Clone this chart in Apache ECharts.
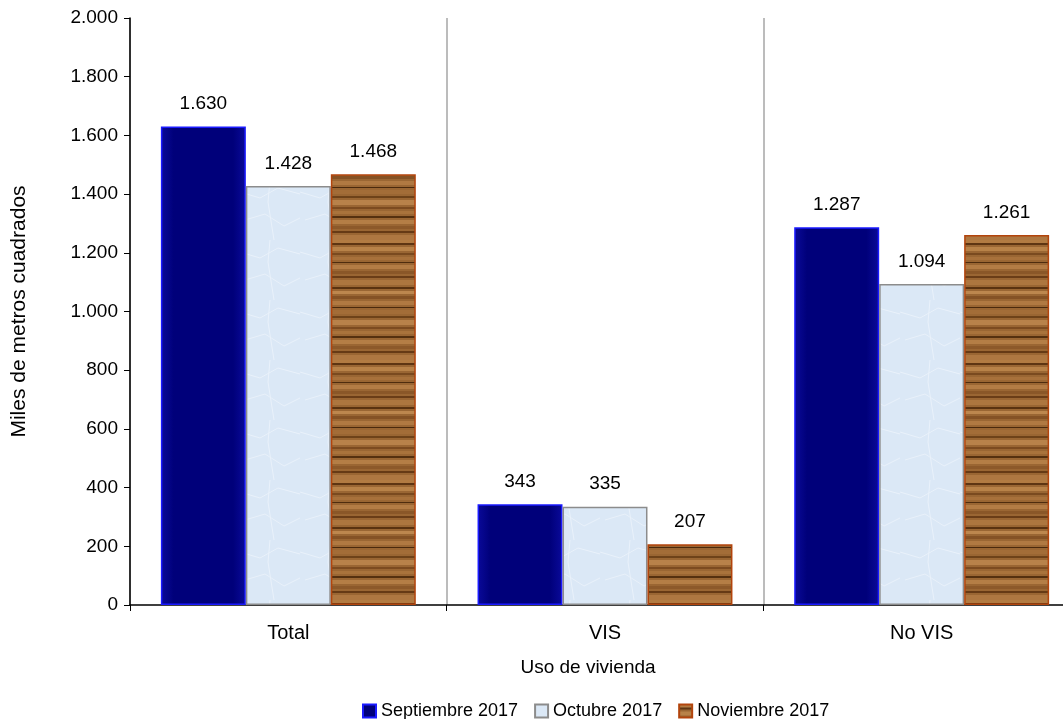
<!DOCTYPE html>
<html lang="es">
<head>
    <meta charset="UTF-8">
    <title>Uso de vivienda</title>
    <script src="https://cdn.jsdelivr.net/npm/echarts/dist/echarts.min.js"></script>
    <style>
        html, body { margin: 0; padding: 0; background: #fff; }
        #main { width: 1063px; height: 719px; }
    </style>
</head>
<body>
    <div id="main"></div>
    <script>
        var categories = ['Total', 'VIS', 'No VIS'];
        var seriesNames = ['Septiembre 2017', 'Octubre 2017', 'Noviembre 2017'];
        var septiembre = [1630, 343, 1287];
        var octubre = [1428, 335, 1094];
        var noviembre = [1468, 207, 1261];

        function fmt(v) {
            return String(v).replace(/\B(?=(\d{3})+(?!\d))/g, '.');
        }

        // textura madera (rayas horizontales fijas)
        function woodPattern() {
            var c = document.createElement('canvas');
            c.width = 90; c.height = 120;
            var ctx = c.getContext('2d');
            ctx.fillStyle = '#9a6633';
            ctx.fillRect(0, 0, 90, 120);
            var stripes = [
                [0, 3, '#b27b42'], [3, 2, '#5e3512'], [7, 4, '#b88248'], [13, 2, '#7a4a1f'],
                [17, 3, '#a8713b'], [22, 1, '#4e2c0e'], [25, 4, '#b37c45'], [31, 3, '#8a5728'],
                [36, 2, '#6a3d17'], [40, 5, '#ad763f'], [47, 2, '#5a3210'], [51, 3, '#bd874e'],
                [56, 3, '#855225'], [61, 4, '#b07942'], [67, 1, '#4a290d'], [70, 4, '#a36d38'],
                [76, 2, '#6e4219'], [80, 5, '#b8824a'], [87, 2, '#7c4b20'], [91, 3, '#a9733c'],
                [96, 2, '#55300f'], [100, 4, '#b47e46'], [106, 3, '#8c592a'], [111, 2, '#663a15'],
                [115, 5, '#ae7741']
            ];
            stripes.forEach(function (s) {
                ctx.fillStyle = s[2];
                ctx.fillRect(0, s[0], 90, s[1]);
            });
            return c;
        }

        function icePattern() {
            var c = document.createElement('canvas');
            c.width = 60; c.height = 60;
            var ctx = c.getContext('2d');
            ctx.fillStyle = '#dbe8f6';
            ctx.fillRect(0, 0, 60, 60);
            ctx.strokeStyle = '#e9f1fa';
            ctx.lineWidth = 1;
            ctx.beginPath();
            ctx.moveTo(0, 12); ctx.lineTo(20, 18); ctx.lineTo(38, 8); ctx.lineTo(60, 14);
            ctx.moveTo(5, 40); ctx.lineTo(25, 34); ctx.lineTo(44, 46); ctx.lineTo(60, 38);
            ctx.moveTo(30, 0); ctx.lineTo(28, 22); ctx.lineTo(34, 60);
            ctx.stroke();
            return c;
        }

        var myChart = echarts.init(document.getElementById('main'));
        var labelOpt = {
            show: true,
            position: 'top',
            distance: 13,
            color: '#000',
            fontSize: 19,
            fontFamily: 'Liberation Sans',
            formatter: function (p) { return fmt(p.value); }
        };

        var option = {
            animation: false,
            textStyle: { fontFamily: 'Liberation Sans' },
            // el área sigue más allá del borde derecho, como en el original recortado
            grid: { left: 130, top: 18, width: 950, height: 587, outerBoundsMode: 'none', containLabel: false },
            legend: {
                top: 697,
                left: 357,
                icon: 'rect',
                itemWidth: 13,
                itemHeight: 13,
                itemGap: 16,
                textStyle: { fontSize: 18, color: '#000', fontFamily: 'Liberation Sans' },
                data: seriesNames
            },
            xAxis: {
                type: 'category',
                data: categories,
                name: 'Uso de vivienda',
                nameLocation: 'middle',
                nameGap: 53,
                nameTextStyle: { fontSize: 19, color: '#000', padding: [0, 34, 0, 0] },
                axisLine: { lineStyle: { color: '#000', width: 1.5 } },
                axisTick: { show: true, length: 6, lineStyle: { color: '#000' } },
                axisLabel: { fontSize: 20, color: '#000', margin: 18 },
                splitLine: { show: true, lineStyle: { color: '#a6a6a6', width: 1.5 } }
            },
            yAxis: {
                type: 'value',
                min: 0,
                max: 2000,
                interval: 200,
                name: 'Miles de metros cuadrados',
                nameLocation: 'middle',
                nameGap: 100,
                nameTextStyle: { fontSize: 21, color: '#000' },
                axisLine: { show: true, lineStyle: { color: '#000', width: 1.5 } },
                axisTick: { show: true, length: 6, lineStyle: { color: '#000' } },
                axisLabel: { fontSize: 19, color: '#000', margin: 12, formatter: fmt },
                splitLine: { show: false }
            },
            series: [
                {
                    name: seriesNames[0],
                    type: 'bar',
                    data: septiembre,
                    barGap: '0%',
                    barCategoryGap: '19.5%',
                    itemStyle: {
                        color: new echarts.graphic.LinearGradient(0, 0, 1, 0, [
                            { offset: 0, color: '#0a0a9a' },
                            { offset: 0.15, color: '#00007a' },
                            { offset: 0.85, color: '#00007a' },
                            { offset: 1, color: '#0a0a9a' }
                        ]),
                        borderColor: '#1a1aff',
                        borderWidth: 1.5
                    },
                    label: labelOpt
                },
                {
                    name: seriesNames[1],
                    type: 'bar',
                    data: octubre,
                    itemStyle: {
                        color: { image: icePattern(), repeat: 'repeat' },
                        borderColor: '#8c8c8c',
                        borderWidth: 1.5
                    },
                    label: labelOpt
                },
                {
                    name: seriesNames[2],
                    type: 'bar',
                    data: noviembre,
                    itemStyle: {
                        color: { image: woodPattern(), repeat: 'repeat' },
                        borderColor: '#b2440c',
                        borderWidth: 1.5
                    },
                    label: labelOpt
                }
            ]
        };

        myChart.setOption(option);
    </script>
</body>
</html>
